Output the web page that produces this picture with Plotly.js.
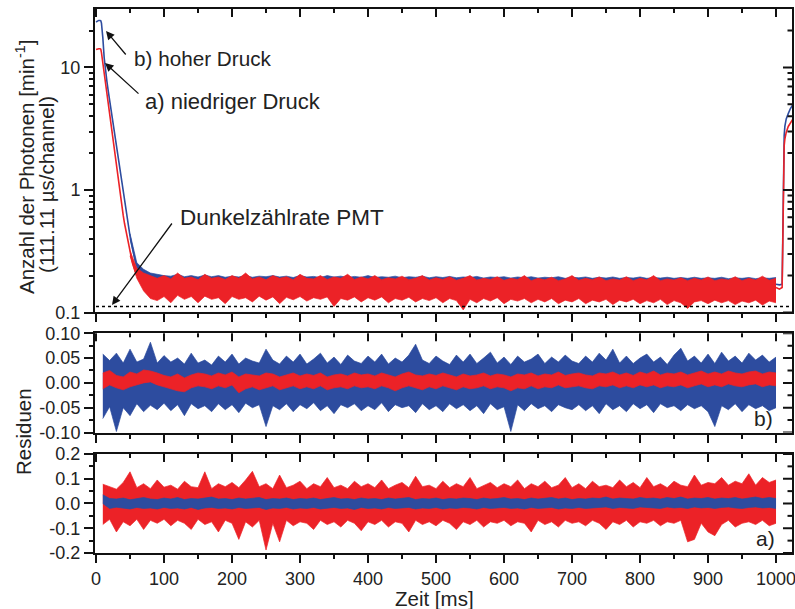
<!DOCTYPE html>
<html><head><meta charset="utf-8">
<script src="https://cdn.plot.ly/plotly-3.0.1.min.js"></script>
<style>html,body{margin:0;padding:0;background:#fff}#chart{width:795px;height:609px}</style>
</head><body><div id="chart"></div>
<script>
// ---------------- data ----------------
const tDecay = [0,2,4,6,7,8,9,10,12,14,16,18,20,22,24,26,28,30,32,34,36,38,40,42,44,46,48,50,52,54,56,58,60];
const redDecay = [14.0,14.2,14.2,14.2,14.1,13.2,12.0,10.8,8.9,7.3,6.0,4.9,4.0,3.3,2.7,2.2,1.8,1.5,1.25,1.0,0.86,0.73,0.62,0.53,0.46,0.40,0.35,0.31,0.28,0.25,0.23,0.215,0.2];
const blueDecay = [23.5,24.0,24.2,24.2,24.0,23.0,21.0,17.5,12.0,9.2,7.7,6.4,5.4,4.5,3.8,3.2,2.65,2.2,1.85,1.55,1.3,1.1,0.93,0.79,0.67,0.57,0.49,0.42,0.37,0.32,0.29,0.26,0.24];

const tTop = [50,60,70,80,90,100,110,120,130,140,150,160,170,180,190,200,210,220,230,240,250,260,270,280,290,300,310,320,330,340,350,360,370,380,390,400,410,420,430,440,450,460,470,480,490,500,510,520,530,540,550,560,570,580,590,600,610,620,630,640,650,660,670,680,690,700,710,720,730,740,750,760,770,780,790,800,810,820,830,840,850,860,870,880,890,900,910,920,930,940,950,960,970,980,990,1000];
const redTopHi = [0.32,0.23,0.21,0.2,0.19,0.2,0.188,0.21,0.19,0.195,
 0.185,0.205,0.19,0.195,0.186,0.2,0.19,0.21,0.188,0.195,
 0.185,0.2,0.19,0.196,0.185,0.205,0.19,0.188,0.2,0.186,
 0.195,0.19,0.205,0.186,0.195,0.188,0.2,0.185,0.192,0.188,
 0.198,0.185,0.19,0.2,0.184,0.192,0.186,0.196,0.183,0.19,
 0.2,0.184,0.19,0.186,0.196,0.183,0.19,0.186,0.2,0.182,
 0.19,0.185,0.194,0.182,0.188,0.2,0.183,0.19,0.185,0.195,
 0.182,0.188,0.184,0.196,0.182,0.19,0.185,0.2,0.182,0.188,
 0.184,0.192,0.182,0.19,0.184,0.195,0.182,0.188,0.184,0.196,
 0.182,0.19,0.184,0.198,0.183,0.19];
const redTopLo = [0.29,0.19,0.15,0.13,0.125,0.135,0.12,0.138,0.128,0.135,
 0.12,0.136,0.128,0.132,0.118,0.135,0.128,0.132,0.122,0.136,
 0.126,0.134,0.118,0.133,0.127,0.135,0.124,0.132,0.128,0.134,
 0.112,0.13,0.126,0.134,0.122,0.132,0.126,0.134,0.12,0.13,
 0.126,0.133,0.122,0.13,0.125,0.132,0.12,0.13,0.125,0.105,
 0.128,0.12,0.13,0.124,0.132,0.118,0.128,0.124,0.13,0.12,
 0.128,0.122,0.13,0.118,0.126,0.122,0.13,0.118,0.126,0.122,
 0.128,0.116,0.126,0.122,0.128,0.118,0.125,0.12,0.128,0.116,
 0.125,0.12,0.108,0.122,0.125,0.118,0.126,0.12,0.125,0.116,
 0.124,0.12,0.126,0.115,0.124,0.12];
const blueTopHi = [0.44,0.255,0.225,0.21,0.205,0.2,0.198,0.205,0.196,0.2,
 0.195,0.202,0.196,0.2,0.194,0.198,0.195,0.2,0.194,0.198,
 0.196,0.2,0.195,0.198,0.193,0.2,0.195,0.197,0.193,0.2,
 0.195,0.198,0.193,0.197,0.194,0.2,0.193,0.196,0.194,0.198,
 0.192,0.196,0.194,0.198,0.192,0.196,0.193,0.197,0.192,0.195,
 0.193,0.197,0.191,0.195,0.193,0.196,0.191,0.195,0.192,0.196,
 0.191,0.194,0.192,0.196,0.19,0.194,0.192,0.195,0.19,0.194,
 0.191,0.195,0.19,0.193,0.191,0.195,0.19,0.193,0.191,0.194,
 0.19,0.193,0.19,0.194,0.19,0.192,0.19,0.194,0.189,0.192,
 0.19,0.193,0.189,0.192,0.19,0.193];
const blueTopLo = [0.40,0.225,0.18,0.155,0.145,0.145,0.14,0.148,0.142,0.146,
 0.14,0.146,0.138,0.145,0.14,0.147,0.139,0.145,0.141,0.146,
 0.14,0.145,0.138,0.146,0.14,0.144,0.139,0.146,0.141,0.145,
 0.138,0.144,0.14,0.146,0.139,0.145,0.14,0.144,0.138,0.145,
 0.14,0.144,0.139,0.145,0.138,0.144,0.14,0.143,0.138,0.144,
 0.139,0.143,0.138,0.145,0.139,0.143,0.137,0.144,0.139,0.143,
 0.138,0.142,0.139,0.144,0.137,0.142,0.138,0.143,0.137,0.142,
 0.138,0.143,0.137,0.142,0.138,0.141,0.137,0.143,0.138,0.142,
 0.137,0.141,0.138,0.142,0.136,0.141,0.138,0.142,0.137,0.141,
 0.138,0.142,0.136,0.14,0.137,0.141];

const tRise = [1000,1005,1009,1010,1011,1012,1013,1015,1018,1021,1025];
const redRise = [0.16,0.155,0.16,0.5,1.5,2.3,2.6,2.95,3.3,3.55,3.8];
const blueRise = [0.17,0.168,0.17,0.6,1.8,2.8,3.3,3.8,4.2,4.6,5.0];

const darkT = [0,1024];
const darkRate = [0.112,0.112];

const tRes = [10,20,30,40,50,60,70,80,90,100,110,120,130,140,150,160,170,180,190,200,210,220,230,240,250,260,270,280,290,300,310,320,330,340,350,360,370,380,390,400,410,420,430,440,450,460,470,480,490,500,510,520,530,540,550,560,570,580,590,600,610,620,630,640,650,660,670,680,690,700,710,720,730,740,750,760,770,780,790,800,810,820,830,840,850,860,870,880,890,900,910,920,930,940,950,960,970,980,990,1000];
// residuals b) (hoher Druck): blue wide, red narrow
const blueResHi = [0.058,0.045,0.060,0.040,0.068,0.042,0.048,0.082,0.040,0.055,
 0.042,0.050,0.038,0.060,0.040,0.046,0.036,0.054,0.042,0.058,
 0.038,0.050,0.044,0.040,0.068,0.046,0.038,0.054,0.042,0.058,
 0.038,0.048,0.060,0.040,0.052,0.037,0.056,0.044,0.039,0.054,
 0.042,0.058,0.038,0.050,0.042,0.056,0.078,0.046,0.039,0.054,
 0.044,0.037,0.056,0.042,0.058,0.039,0.050,0.062,0.040,0.052,
 0.037,0.054,0.042,0.048,0.058,0.039,0.052,0.042,0.056,0.044,
 0.039,0.054,0.042,0.060,0.046,0.068,0.040,0.054,0.039,0.050,
 0.058,0.042,0.052,0.037,0.056,0.070,0.044,0.054,0.040,0.058,
 0.039,0.062,0.044,0.054,0.040,0.060,0.046,0.056,0.042,0.052];
const blueResLo = [-0.072,-0.048,-0.098,-0.050,-0.066,-0.042,-0.058,-0.045,-0.054,-0.041,
 -0.056,-0.044,-0.066,-0.042,-0.052,-0.046,-0.058,-0.042,-0.054,-0.044,
 -0.060,-0.041,-0.050,-0.044,-0.088,-0.046,-0.054,-0.042,-0.058,-0.044,
 -0.052,-0.040,-0.056,-0.046,-0.062,-0.044,-0.050,-0.042,-0.056,-0.046,
 -0.054,-0.040,-0.058,-0.044,-0.050,-0.046,-0.060,-0.042,-0.054,-0.046,
 -0.058,-0.042,-0.052,-0.044,-0.056,-0.046,-0.062,-0.042,-0.054,-0.048,
 -0.098,-0.044,-0.056,-0.042,-0.052,-0.046,-0.058,-0.044,-0.050,-0.054,
 -0.044,-0.056,-0.046,-0.062,-0.042,-0.054,-0.046,-0.058,-0.042,-0.052,
 -0.044,-0.060,-0.042,-0.050,-0.046,-0.056,-0.044,-0.052,-0.046,-0.058,
 -0.088,-0.046,-0.054,-0.042,-0.058,-0.044,-0.052,-0.046,-0.056,-0.050];
const redResBHi = [0.020,0.025,0.015,0.012,0.022,0.018,0.026,0.024,0.020,0.015,
 0.012,0.018,0.010,0.016,0.020,0.018,0.014,0.020,0.016,0.022,
 0.012,0.018,0.016,0.014,0.020,0.018,0.012,0.016,0.020,0.014,
 0.018,0.015,0.020,0.012,0.016,0.018,0.014,0.020,0.016,0.018,
 0.014,0.020,0.016,0.012,0.018,0.022,0.016,0.014,0.018,0.015,
 0.020,0.016,0.012,0.018,0.014,0.016,0.020,0.014,0.018,0.016,
 0.012,0.018,0.016,0.020,0.014,0.018,0.016,0.022,0.015,0.018,
 0.020,0.016,0.014,0.020,0.018,0.022,0.016,0.020,0.015,0.022,
 0.018,0.024,0.016,0.020,0.018,0.022,0.016,0.020,0.024,0.018,
 0.022,0.018,0.024,0.020,0.018,0.022,0.024,0.018,0.022,0.020];
const redResBLo = [-0.012,-0.004,-0.010,-0.014,-0.008,-0.004,0.000,0.002,-0.004,-0.008,
 -0.012,-0.016,-0.018,-0.010,-0.006,-0.008,-0.012,-0.006,-0.010,-0.004,
 -0.020,-0.012,-0.008,-0.014,-0.010,-0.006,-0.014,-0.010,-0.006,-0.012,
 -0.008,-0.012,-0.006,-0.014,-0.010,-0.008,-0.012,-0.006,-0.010,-0.008,
 -0.012,-0.006,-0.010,-0.016,-0.010,-0.006,-0.010,-0.014,-0.008,-0.012,
 -0.006,-0.010,-0.014,-0.008,-0.012,-0.010,-0.006,-0.012,-0.008,-0.010,
 -0.016,-0.010,-0.012,-0.006,-0.012,-0.008,-0.010,-0.004,-0.010,-0.008,
 -0.006,-0.010,-0.012,-0.006,-0.008,-0.004,-0.010,-0.006,-0.010,-0.004,
 -0.008,-0.004,-0.010,-0.006,-0.008,-0.004,-0.010,-0.006,-0.002,-0.008,
 -0.004,-0.008,-0.002,-0.006,-0.008,-0.004,-0.002,-0.008,-0.004,-0.006];
// residuals a) (niedriger Druck): red wide, blue narrow
const redResHi = [0.078,0.068,0.058,0.085,0.128,0.064,0.080,0.060,0.095,0.066,
 0.074,0.058,0.090,0.068,0.064,0.128,0.060,0.080,0.068,0.085,
 0.064,0.095,0.130,0.068,0.080,0.060,0.115,0.064,0.074,0.090,
 0.060,0.080,0.068,0.105,0.064,0.074,0.060,0.090,0.068,0.080,
 0.064,0.095,0.060,0.074,0.085,0.064,0.110,0.068,0.074,0.060,
 0.090,0.064,0.080,0.068,0.105,0.060,0.074,0.085,0.064,0.080,
 0.068,0.095,0.060,0.080,0.068,0.090,0.064,0.074,0.105,0.064,
 0.080,0.060,0.090,0.068,0.074,0.064,0.095,0.068,0.085,0.064,
 0.105,0.068,0.080,0.064,0.090,0.074,0.068,0.115,0.074,0.085,
 0.080,0.105,0.074,0.090,0.080,0.120,0.074,0.105,0.085,0.095];
const redResLo = [-0.085,-0.064,-0.115,-0.074,-0.090,-0.064,-0.105,-0.068,-0.080,-0.064,
 -0.090,-0.068,-0.080,-0.105,-0.064,-0.085,-0.074,-0.115,-0.068,-0.080,
 -0.145,-0.074,-0.095,-0.068,-0.188,-0.080,-0.155,-0.068,-0.090,-0.074,
 -0.080,-0.105,-0.068,-0.085,-0.074,-0.095,-0.068,-0.080,-0.110,-0.074,
 -0.085,-0.068,-0.095,-0.074,-0.080,-0.115,-0.068,-0.085,-0.074,-0.090,
 -0.068,-0.080,-0.105,-0.074,-0.085,-0.068,-0.095,-0.074,-0.080,-0.068,
 -0.090,-0.074,-0.080,-0.115,-0.068,-0.085,-0.074,-0.095,-0.068,-0.080,
 -0.074,-0.090,-0.068,-0.080,-0.105,-0.074,-0.085,-0.068,-0.095,-0.074,
 -0.080,-0.068,-0.090,-0.074,-0.080,-0.068,-0.155,-0.145,-0.080,-0.115,
 -0.130,-0.085,-0.068,-0.095,-0.080,-0.074,-0.085,-0.068,-0.090,-0.080];
const blueResAHi = [0.035,0.020,0.018,0.022,0.015,0.020,0.024,0.018,0.016,0.022,
 0.018,0.024,0.016,0.020,0.018,0.022,0.026,0.018,0.020,0.016,
 0.022,0.018,0.020,0.024,0.016,0.020,0.018,0.022,0.016,0.020,
 0.018,0.022,0.016,0.020,0.024,0.018,0.020,0.016,0.022,0.018,
 0.020,0.016,0.022,0.018,0.020,0.024,0.016,0.020,0.018,0.022,
 0.016,0.020,0.018,0.022,0.020,0.016,0.022,0.018,0.020,0.024,
 0.018,0.020,0.016,0.022,0.018,0.020,0.024,0.018,0.022,0.016,
 0.020,0.018,0.022,0.020,0.026,0.018,0.022,0.020,0.018,0.024,
 0.020,0.022,0.018,0.024,0.020,0.026,0.018,0.022,0.020,0.024,
 0.018,0.022,0.020,0.024,0.018,0.022,0.026,0.020,0.024,0.020];
const blueResALo = [0.000,-0.020,-0.015,-0.018,-0.022,-0.016,-0.020,-0.018,-0.022,-0.016,
 -0.020,-0.018,-0.022,-0.016,-0.024,-0.018,-0.016,-0.020,-0.018,-0.022,
 -0.016,-0.020,-0.018,-0.016,-0.024,-0.018,-0.020,-0.016,-0.022,-0.018,
 -0.020,-0.016,-0.022,-0.018,-0.016,-0.020,-0.018,-0.024,-0.016,-0.020,
 -0.018,-0.022,-0.016,-0.020,-0.018,-0.016,-0.022,-0.018,-0.020,-0.016,
 -0.022,-0.018,-0.020,-0.016,-0.018,-0.022,-0.016,-0.020,-0.018,-0.016,
 -0.020,-0.018,-0.022,-0.016,-0.020,-0.018,-0.016,-0.022,-0.018,-0.020,
 -0.016,-0.020,-0.018,-0.016,-0.014,-0.020,-0.016,-0.018,-0.020,-0.014,
 -0.016,-0.018,-0.020,-0.014,-0.018,-0.016,-0.020,-0.014,-0.018,-0.016,
 -0.020,-0.016,-0.014,-0.018,-0.020,-0.016,-0.014,-0.018,-0.016,-0.020];

// tick positions
const xMajorTicks = [0,100,200,300,400,500,600,700,800,900,1000];
const xMinorTicks = [50,150,250,350,450,550,650,750,850,950];
const topTicks = [0.1,1,10], topTickText = ['0.1','1','10'];
const topMinor = [0.2,0.3,0.4,0.5,0.6,0.7,0.8,0.9,2,3,4,5,6,7,8,9,20];
const midTicks = [-0.1,-0.05,0,0.05,0.1], midTickText = ['-0.10','-0.05','0.00','0.05','0.10'];
const midMinor = [-0.075,-0.025,0.025,0.075];
const botTicks = [-0.2,-0.1,0,0.1,0.2], botTickText = ['-0.2','-0.1','0.0','0.1','0.2'];
const botMinor = [-0.15,-0.05,0.05,0.15];

// ---------------- drawing ----------------
const BLUE = '#2D4C9F', RED = '#EC2227';
const FONT = 'Liberation Sans, Arial, Helvetica, sans-serif';
const TXT = '#222';
const TK = '#111';

function line(x, y, color, xa, ya, w, extra) {
  return Object.assign({x: x, y: y, xaxis: xa, yaxis: ya, type: 'scatter', mode: 'lines',
    line: {color: color, width: w}, hoverinfo: 'skip', showlegend: false}, extra || {});
}
function band(x, lo, hi, color, xa, ya) {
  return [line(x, lo, color, xa, ya, 0.7),
          line(x, hi, color, xa, ya, 0.7, {fill: 'tonexty', fillcolor: color})];
}

const data = [].concat(
  band(tTop, blueTopLo, blueTopHi, BLUE, 'x', 'y'),
  [line(tDecay, blueDecay, BLUE, 'x', 'y', 1.6), line(tRise, blueRise, BLUE, 'x', 'y', 1.6)],
  band(tTop, redTopLo, redTopHi, RED, 'x', 'y'),
  [line(tDecay, redDecay, RED, 'x', 'y', 1.6), line(tRise, redRise, RED, 'x', 'y', 1.6)],
  [line(darkT, darkRate, '#000', 'x', 'y', 1.5, {line: {color: '#000', width: 1.5, dash: 'dot'}})],
  band(tRes, blueResLo, blueResHi, BLUE, 'x2', 'y2'),
  band(tRes, redResBLo, redResBHi, RED, 'x2', 'y2'),
  band(tRes, redResLo, redResHi, RED, 'x3', 'y3'),
  band(tRes, blueResALo, blueResAHi, BLUE, 'x3', 'y3')
);

const XR = [-1.5, 1023.5];
function xMain(anchor, labels) {
  return {anchor: anchor, range: XR, showgrid: false, zeroline: false,
    showline: true, linewidth: 2, linecolor: TK, mirror: true,
    ticks: 'outside', ticklen: 8, tickwidth: 2, tickcolor: TK, tick0: 0, dtick: 100,
    minor: {ticks: 'outside', ticklen: 4, tickwidth: 2, tickcolor: TK, tick0: 0, dtick: 50, showgrid: false},
    showticklabels: labels, ticklabeloverflow: 'allow',
    tickfont: {family: FONT, size: 18, color: TXT}};
}
function yMain(anchor, domain, range, tv, tt, mv, type) {
  return {anchor: anchor, domain: domain, range: range, type: type || 'linear', showgrid: false, zeroline: false,
    showline: true, linewidth: 2, linecolor: TK, mirror: true,
    tickmode: 'array', tickvals: tv, ticktext: tt,
    ticks: 'outside', ticklen: 9, tickwidth: 2, tickcolor: TK,
    minor: {tickmode: 'array', tickvals: mv, ticks: 'outside', ticklen: 4.5, tickwidth: 2, tickcolor: TK, showgrid: false},
    tickfont: {family: FONT, size: 18, color: TXT}};
}

// inward mirror ticks on the top and right frame edges, placed through the axes' own scales
function topTickShapes(xa, ya, vals, len) {
  return vals.map(v => ({type: 'line', xref: xa, yref: ya + ' domain', x0: v, x1: v,
    ysizemode: 'pixel', yanchor: 1, y0: 0, y1: -len, line: {color: TK, width: 2}, layer: 'above'}));
}
function rightTickShapes(xa, ya, vals, len) {
  return vals.map(v => ({type: 'line', xref: xa + ' domain', yref: ya, y0: v, y1: v,
    xsizemode: 'pixel', xanchor: 1, x0: 0, x1: -len, line: {color: TK, width: 2}, layer: 'above'}));
}
const shapes = [].concat(
  topTickShapes('x', 'y', xMajorTicks, 8), topTickShapes('x', 'y', xMinorTicks, 4),
  topTickShapes('x2', 'y2', xMajorTicks, 8), topTickShapes('x2', 'y2', xMinorTicks, 4),
  topTickShapes('x3', 'y3', xMajorTicks, 8), topTickShapes('x3', 'y3', xMinorTicks, 4),
  rightTickShapes('x', 'y', topTicks, 9), rightTickShapes('x', 'y', topMinor, 4.5),
  rightTickShapes('x2', 'y2', midTicks, 9), rightTickShapes('x2', 'y2', midMinor, 4.5),
  rightTickShapes('x3', 'y3', botTicks, 9), rightTickShapes('x3', 'y3', botMinor, 4.5)
);

const L = 95, T = 9, W = 697, H = 544;
function px(x) { return (x - L) / W; }
function py(y) { return (T + H - y) / H; }

function txt(text, x, y, xanchor, size, extra) {
  return Object.assign({text: text, xref: 'paper', yref: 'paper', x: px(x), y: py(y),
    xanchor: xanchor, yanchor: 'middle', showarrow: false,
    font: {family: FONT, size: size, color: TXT}}, extra || {});
}
function arrow(tipX, tipY, tailX, tailY) {
  return {text: '', xref: 'paper', yref: 'paper', x: px(tipX), y: py(tipY),
    ax: tailX - tipX, ay: tailY - tipY, showarrow: true, arrowhead: 2, arrowsize: 1.3,
    arrowwidth: 1.3, arrowcolor: '#111'};
}

const dTop = [0.4421, 1], dMid = [0.2215, 0.4039], dBot = [0, 0.182];
const rTop = [-1, Math.log10(30)], rMid = [-0.1, 0.1], rBot = [-0.2, 0.2];

const layout = {
  width: 795, height: 609, paper_bgcolor: '#fff', plot_bgcolor: '#fff',
  margin: {l: L, r: 3, t: T, b: 56}, showlegend: false,
  font: {family: FONT, color: TXT},
  xaxis: xMain('y', false),
  xaxis2: xMain('y2', false),
  xaxis3: xMain('y3', true),
  yaxis: yMain('x', dTop, rTop, topTicks, topTickText, topMinor, 'log'),
  yaxis2: yMain('x2', dMid, rMid, midTicks, midTickText, midMinor),
  yaxis3: yMain('x3', dBot, rBot, botTicks, botTickText, botMinor),
  shapes: shapes,
  annotations: [
    txt('Anzahl der Photonen [min<sup>-1</sup>]', 25, 167, 'center', 20.5, {textangle: -90}),
    txt('(111.11 µs/channel)', 47, 185, 'center', 20.5, {textangle: -90}),
    txt('Residuen', 23, 432, 'center', 20.5, {textangle: -90}),
    txt('Zeit [ms]', 434, 598, 'center', 20.5),
    txt('b) hoher Druck', 132, 58, 'left', 20.7),
    txt('a) niedriger Druck', 143, 102, 'left', 22),
    txt('Dunkelzählrate PMT', 178, 217, 'left', 22.5),
    txt('b)', 763, 418, 'center', 21),
    txt('a)', 765, 538, 'center', 21),
    arrow(106, 31, 127, 56),
    arrow(105, 63, 140, 95),
    arrow(112, 305, 173, 222)
  ]
};

Plotly.newPlot('chart', data, layout, {staticPlot: true, displayModeBar: false});
</script>
</body></html>
